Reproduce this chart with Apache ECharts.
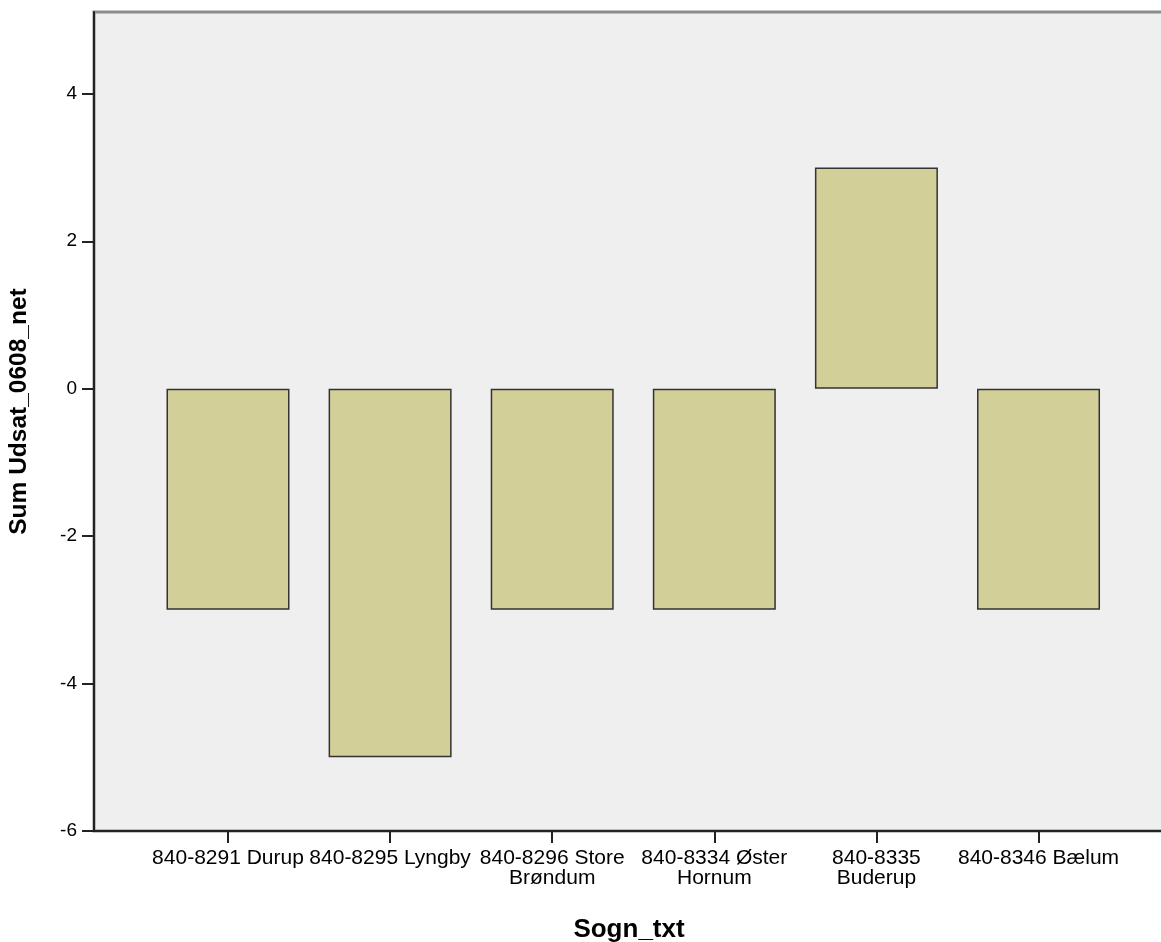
<!DOCTYPE html>
<html>
<head>
<meta charset="utf-8">
<script src="https://cdn.jsdelivr.net/npm/echarts@6/dist/echarts.min.js"></script>
<style>
html,body{margin:0;padding:0;background:#fff;}
#chart{width:1161px;height:942px;}
</style>
</head>
<body>
<div id="chart"></div>
<script>
// Data
const categories = [
  "840-8291 Durup",
  "840-8295 Lyngby",
  "840-8296 Store\nBrøndum",
  "840-8334 Øster\nHornum",
  "840-8335\nBuderup",
  "840-8346 Bælum"
];
const values = [-3, -5, -3, -3, 3, -3];
const yTicks = [-6, -4, -2, 0, 2, 4];
const xTitle = "Sogn_txt";
const yTitle = "Sum Udsat_0608_net";

const positions = categories.map((c, i) => i);
const seriesData = values.map((v, i) => [i, v]);

const chart = echarts.init(document.getElementById('chart'), null, {renderer: 'canvas'});
chart.setOption({
  animation: false,
  backgroundColor: '#ffffff',
  grid: {
    left: 94, right: -3, top: 12, bottom: 111,
    outerBoundsMode: 'none',
    containLabel: false,
    show: true,
    backgroundColor: '#efefef',
    borderColor: '#8c8c8c',
    borderWidth: 3
  },
  xAxis: {
    type: 'value',
    min: -0.8266,
    max: 5.774,
    name: xTitle,
    nameLocation: 'middle',
    nameGap: 86,
    nameTextStyle: {fontFamily: 'Liberation Sans', fontWeight: 'bold', fontSize: 26, color: '#000'},
    splitLine: {show: false},
    axisLine: {show: true, onZero: false, lineStyle: {color: '#222', width: 2}},
    axisTick: {show: true, length: 12, customValues: positions, lineStyle: {color: '#222', width: 2}},
    axisLabel: {
      customValues: positions,
      margin: 17,
      fontFamily: 'Liberation Sans',
      fontSize: 21,
      lineHeight: 20,
      color: '#000',
      align: 'center',
      formatter: function (v) { return categories[Math.round(v)] || ''; }
    }
  },
  yAxis: {
    type: 'value',
    min: -6,
    max: 5.11,
    name: yTitle,
    nameLocation: 'middle',
    nameGap: 62,
    nameTextStyle: {fontFamily: 'Liberation Sans', fontWeight: 'bold', fontSize: 24.5, color: '#000', padding: [0, 0, 0, 20]},
    splitLine: {show: false},
    axisLine: {show: true, onZero: false, lineStyle: {color: '#222', width: 2}},
    axisTick: {show: true, length: 12, customValues: yTicks, lineStyle: {color: '#222', width: 2}},
    axisLabel: {
      customValues: yTicks,
      margin: 17,
      fontFamily: 'Liberation Sans',
      fontSize: 19,
      color: '#000'
    }
  },
  series: [{
    type: 'bar',
    data: seriesData,
    barWidth: 123,
    itemStyle: {color: '#d3cf98', borderColor: '#333333', borderWidth: 1.5}
  }]
});
</script>
</body>
</html>
